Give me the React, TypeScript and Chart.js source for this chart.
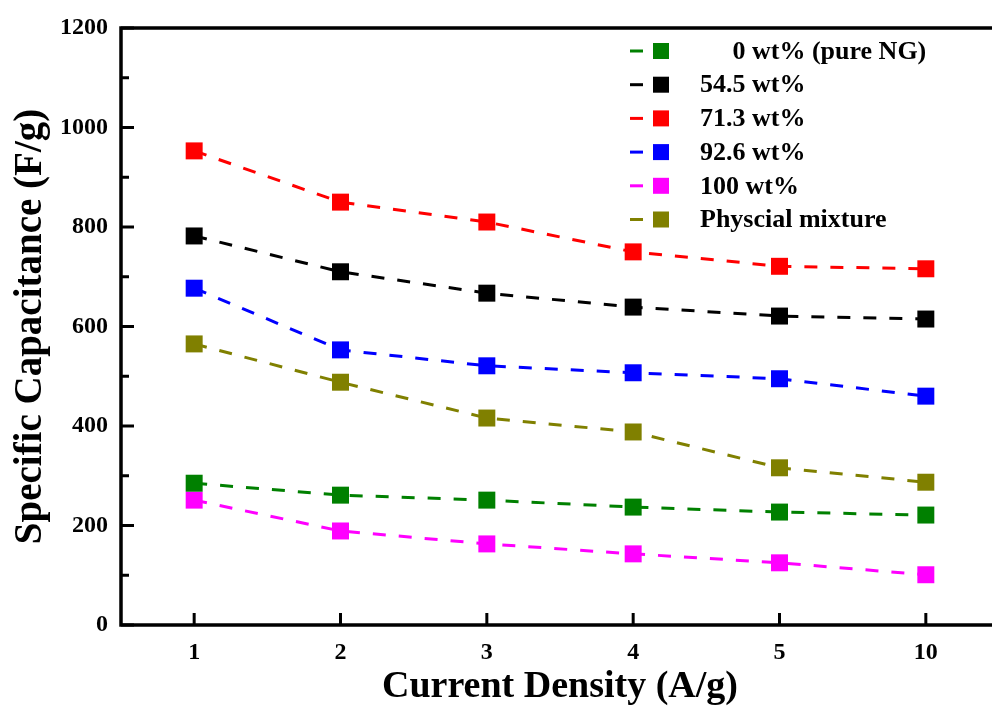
import { useEffect, useRef } from 'react';
import { Chart, registerables } from 'chart.js';

Chart.register(...registerables);

// ---- data ----
const categories = ['1', '2', '3', '4', '5', '10'];
const seriesLabels = [
  '     0 wt% (pure NG)',
  '54.5 wt%',
  '71.3 wt%',
  '92.6 wt%',
  '100 wt%',
  'Physcial mixture',
];
const pureNG = [285, 261, 251, 237, 227, 221];
const wt545 = [782, 710, 667, 639, 621, 615];
const wt713 = [953, 850, 810, 750, 721, 716];
const wt926 = [677, 553, 521, 507, 495, 460];
const wt100 = [251, 189, 163, 143, 125, 101];
const physMix = [565, 488, 416, 388, 316, 287];
const seriesColors = ['#008000', '#000000', '#ff0000', '#0000ff', '#ff00ff', '#808000'];
const yMin = 0;
const yMax = 1200;
const yStep = 100;
const yLabelStep = 200;
const xTitle = 'Current Density (A/g)';
const yTitle = 'Specific Capacitance (F/g)';

const FONT = '"Liberation Serif", "Times New Roman", serif';

const framePlugin = {
  id: 'frame',
  beforeDatasetsDraw(chart: any) {
    const { ctx, chartArea: a, scales } = chart;
    ctx.save();
    ctx.strokeStyle = '#000';
    ctx.lineWidth = 3;
    ctx.lineCap = 'butt';
    const ys = scales.y;
    ys.ticks.forEach((t: any) => {
      const py = ys.getPixelForValue(t.value);
      const len = t.value % yLabelStep === 0 ? 13 : 8;
      ctx.beginPath();
      ctx.moveTo(a.left, py);
      ctx.lineTo(a.left + len, py);
      ctx.stroke();
    });
    const xs = scales.x;
    categories.forEach((_, i) => {
      const px = xs.getPixelForValue(i);
      ctx.beginPath();
      ctx.moveTo(px, a.bottom);
      ctx.lineTo(px, a.bottom - 12);
      ctx.stroke();
    });
    ctx.lineWidth = 3.5;
    ctx.strokeRect(a.left, a.top, a.right - a.left, a.bottom - a.top);
    ctx.restore();
  },
};

const legendPlugin = {
  id: 'boxLegend',
  afterDraw(chart: any) {
    const { ctx, chartArea: a } = chart;
    ctx.save();
    ctx.font = `bold 26px ${FONT}`;
    ctx.textBaseline = 'middle';
    ctx.textAlign = 'left';
    chart.data.datasets.forEach((ds: any, i: number) => {
      const y = a.top + 23 + i * 33.7;
      const x0 = a.left + 509;
      ctx.strokeStyle = ds.borderColor;
      ctx.lineWidth = 3;
      ctx.beginPath();
      ctx.moveTo(x0, y);
      ctx.lineTo(x0 + 13, y);
      ctx.stroke();
      ctx.fillStyle = ds.backgroundColor;
      ctx.fillRect(x0 + 23, y - 8, 16, 16);
      ctx.fillStyle = '#000';
      ctx.fillText(ds.label, x0 + 70, y + 1);
    });
    ctx.restore();
  },
};

export default function App() {
  const ref = useRef<HTMLCanvasElement>(null);
  useEffect(() => {
    const series = [pureNG, wt545, wt713, wt926, wt100, physMix];
    const chart = new Chart(ref.current!, {
      type: 'line',
      data: {
        labels: categories,
        datasets: series.map((d, i) => ({
          label: seriesLabels[i],
          data: d,
          borderColor: seriesColors[i],
          backgroundColor: seriesColors[i],
          borderWidth: 3,
          borderDash: [13, 13],
          tension: 0,
          fill: false,
          pointStyle: 'rect',
          pointRadius: 12,
          pointBorderWidth: 0,
          pointBackgroundColor: seriesColors[i],
          pointBorderColor: seriesColors[i],
        })),
      },
      options: {
        responsive: false,
        animation: false,
        devicePixelRatio: 1,
        layout: { autoPadding: false, padding: { top: 28, right: 1, left: 0, bottom: 0 } },
        plugins: { legend: { display: false }, tooltip: { enabled: false } },
        scales: {
          x: {
            type: 'category',
            offset: true,
            grid: { display: false, drawTicks: false },
            border: { display: false },
            ticks: {
              color: '#000',
              padding: 13,
              autoSkip: false,
              maxRotation: 0,
              font: { family: FONT, size: 24, weight: 'bold' },
            },
            title: {
              display: true,
              text: xTitle,
              color: '#000',
              padding: { top: 0, bottom: -3 },
              font: { family: FONT, size: 38, weight: 'bold' },
            },
            afterFit: (s: any) => {
              s.height = 82;
              s.paddingLeft = 0;
              s.paddingRight = 0;
            },
          },
          y: {
            type: 'linear',
            min: yMin,
            max: yMax,
            grid: { display: false, drawTicks: false },
            border: { display: false },
            ticks: {
              stepSize: yStep,
              autoSkip: false,
              color: '#000',
              padding: 13,
              font: { family: FONT, size: 24, weight: 'bold' },
              callback: (v: any) => (Number(v) % yLabelStep === 0 ? String(v) : ''),
            },
            title: {
              display: true,
              text: yTitle,
              color: '#000',
              padding: { top: 8, bottom: 0 },
              font: { family: FONT, size: 39, weight: 'bold' },
            },
            afterFit: (s: any) => {
              s.width = 121;
            },
          },
        },
      },
      plugins: [framePlugin, legendPlugin],
    } as any);
    return () => chart.destroy();
  }, []);
  return (
    <div
      style={{
        position: 'absolute',
        left: 0,
        top: 0,
        width: 992,
        height: 707,
        overflow: 'hidden',
        background: '#fff',
      }}
    >
      <canvas ref={ref} width={1000} height={707} style={{ display: 'block', width: 1000, height: 707 }} />
    </div>
  );
}
